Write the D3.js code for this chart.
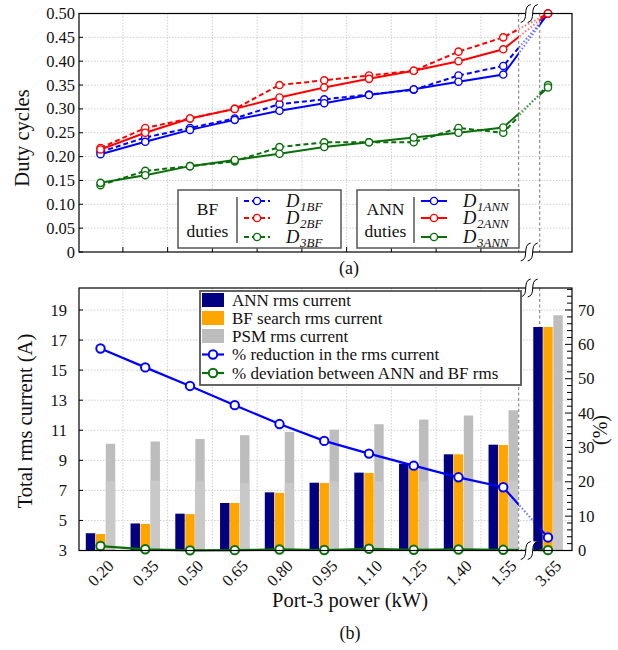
<!DOCTYPE html>
<html><head><meta charset="utf-8">
<script src="https://cdn.jsdelivr.net/npm/d3@7"></script>
<style>
body{margin:0;background:#fff;}
</style></head>
<body><svg id="c" width="618" height="650"></svg>
<script>
// ---------- data ----------
const categories = ["0.20","0.35","0.50","0.65","0.80","0.95","1.10","1.25","1.40","1.55","3.65"];
// (a) duty cycles
const d1ANN = [0.205,0.231,0.256,0.277,0.296,0.312,0.329,0.341,0.357,0.372,0.500];
const d1BF  = [0.210,0.240,0.260,0.280,0.310,0.320,0.330,0.340,0.370,0.390,0.500];
const d2ANN = [0.215,0.250,0.280,0.300,0.324,0.345,0.363,0.380,0.400,0.425,0.500];
const d2BF  = [0.218,0.260,0.280,0.300,0.350,0.360,0.370,0.380,0.420,0.450,0.500];
const d3ANN = [0.145,0.161,0.180,0.193,0.206,0.220,0.230,0.240,0.250,0.261,0.345];
const d3BF  = [0.140,0.170,0.180,0.190,0.220,0.230,0.230,0.230,0.260,0.250,0.350];
const dutyTicks = [0,0.05,0.10,0.15,0.20,0.25,0.30,0.35,0.40,0.45,0.50];
// (b) rms currents
const annRms   = [4.15,4.80,5.45,6.16,6.87,7.51,8.18,8.78,9.40,10.04,17.87];
const bfRms    = [4.10,4.77,5.42,6.16,6.84,7.49,8.16,8.76,9.40,10.02,17.87];
const psmRms   = [10.10,10.25,10.42,10.67,10.89,11.04,11.40,11.71,11.98,12.33,18.65];
const psmLower = [7.60,7.65,7.60,7.50,7.50,7.60,7.60,7.60,7.60,7.65,7.60];
const reduction = [58.8,53.3,47.9,42.3,36.8,31.9,28.2,24.7,21.3,18.4,3.8];
const deviation = [1.3,0.35,0.05,0.1,0.3,0.15,0.5,0.2,0.3,0.2,0.1];
const currentTicks = [3,5,7,9,11,13,15,17,19];
const percentTicks = [0,10,20,30,40,50,60,70];

// ---------- setup ----------
const FONT = "Liberation Serif";
const svg = d3.select("#c");
const L = 79, R = 572;
const x = d3.scaleLinear().domain([0,10]).range([100.5,548]);
const brk1 = x(9.345), brk2 = x(9.815), brkC = x(9.58);
const BLUE="#0000ff", RED="#ff0000", GREEN="#0a6e0a", NAVY="#000080", ORANGE="#ffa500", GRAY="#bdbdbd", GRAYL="#c8c8c8";
const defs = svg.append("defs");

function addClips(id, top, bottom){
  const a = defs.append("clipPath").attr("id", id+"A");
  a.append("rect").attr("x",L).attr("y",top-10).attr("width",brk1-L).attr("height",bottom-top+20);
  a.append("rect").attr("x",brk2).attr("y",top-10).attr("width",R-brk2+10).attr("height",bottom-top+20);
  const b = defs.append("clipPath").attr("id", id+"B");
  b.append("rect").attr("x",brk1).attr("y",top-10).attr("width",brk2-brk1).attr("height",bottom-top+20);
}
function txt(g){ return g.append("text").attr("font-family",FONT).attr("fill","#111"); }

function drawBreak(g, cx, cy){
  const s = g.append("g");
  const c = (dx)=>`M${cx+dx-5},${cy+9} C${cx+dx+4},${cy+7} ${cx+dx-4},${cy-7} ${cx+dx+5},${cy-9}`;
  s.append("path").attr("d", `M${cx-8.5},${cy+9} C${cx+0.5},${cy+7} ${cx-7.5},${cy-7} ${cx+1.5},${cy-9} L${cx+8.5},${cy-9} C${cx-0.5},${cy-7} ${cx+7.5},${cy+7} ${cx-1.5},${cy+9} Z`)
    .attr("fill","#fff");
  [-3.5,3.5].forEach(dx=> s.append("path").attr("d",c(dx)).attr("fill","none").attr("stroke","#000").attr("stroke-width",1));
}

function series(g, yScale, vals, color, dash, clipId, r, sw, mw){
  const line = d3.line().x((d,i)=>x(i)).y(d=>yScale(d));
  g.append("path").datum(vals).attr("d",line).attr("fill","none").attr("stroke",color)
    .attr("stroke-width",sw).attr("stroke-dasharray",dash).attr("clip-path",`url(#${clipId}A)`);
  const seg = vals.map((d,i)=>[i,d]).slice(9);
  g.append("path").datum(seg).attr("d",d3.line().x(d=>x(d[0])).y(d=>yScale(d[1])))
    .attr("fill","none").attr("stroke",color).attr("stroke-width",sw).attr("stroke-dasharray","1.5,2")
    .attr("opacity",0.55).attr("clip-path",`url(#${clipId}B)`);
  g.selectAll(null).data(vals).enter().append("circle")
    .attr("cx",(d,i)=>x(i)).attr("cy",d=>yScale(d)).attr("r",r)
    .attr("fill","#fff").attr("stroke",color).attr("stroke-width",mw);
}

// ================= (a) =================
const aTop = 13.5, aBot = 252;
const ya = d3.scaleLinear().domain([0,0.5]).range([aBot,aTop]);
addClips("ca", aTop, aBot);
const ga = svg.append("g");
ga.selectAll(null).data(dutyTicks.slice(1,-1)).enter().append("line")
  .attr("x1",L).attr("x2",R).attr("y1",d=>ya(d)).attr("y2",d=>ya(d))
  .attr("stroke","#d0d0d0").attr("stroke-width",1).attr("stroke-dasharray","1.5,1.5");
const halfIdx = d3.range(9).map(i=>i+0.5);
ga.selectAll(null).data(halfIdx).enter().append("line")
  .attr("x1",d=>x(d)).attr("x2",d=>x(d)).attr("y1",aTop).attr("y2",aBot)
  .attr("stroke","#d0d0d0").attr("stroke-width",1).attr("stroke-dasharray","1.5,1.5");
[brk1,brk2].forEach(v=> ga.append("line").attr("x1",v).attr("x2",v).attr("y1",aTop).attr("y2",aBot)
  .attr("stroke","#777").attr("stroke-width",1).attr("stroke-dasharray","3,2.5"));
series(ga, ya, d3BF, GREEN, "5,3", "ca", 3.6, 2, 1.4);
series(ga, ya, d3ANN, GREEN, null, "ca", 3.6, 2, 1.4);
series(ga, ya, d1BF, BLUE, "5,3", "ca", 3.6, 2, 1.4);
series(ga, ya, d1ANN, BLUE, null, "ca", 3.6, 2, 1.4);
series(ga, ya, d2BF, RED, "5,3", "ca", 3.6, 2, 1.4);
series(ga, ya, d2ANN, RED, null, "ca", 3.6, 2, 1.4);
ga.append("rect").attr("x",L).attr("y",aTop).attr("width",R-L).attr("height",aBot-aTop)
  .attr("fill","none").attr("stroke","#000").attr("stroke-width",1.2);
ga.selectAll(null).data(halfIdx).enter().append("line")
  .attr("x1",d=>x(d)).attr("x2",d=>x(d)).attr("y1",aBot).attr("y2",aBot-5).attr("stroke","#000");
ga.selectAll(null).data(dutyTicks).enter().append("line")
  .attr("x1",L).attr("x2",L+4).attr("y1",d=>ya(d)).attr("y2",d=>ya(d)).attr("stroke","#000");
dutyTicks.forEach(d=> txt(ga).attr("x",75).attr("y",ya(d)+5.5).attr("text-anchor","end").attr("font-size",16.5)
  .text(d===0 ? "0" : d3.format(".2f")(d)));
txt(ga).attr("transform","translate(29,138) rotate(-90)").attr("text-anchor","middle")
  .attr("font-size",20.5).text("Duty cycles");
drawBreak(ga, brkC, aTop);
drawBreak(ga, brkC, aBot);
function dutyLegend(x0, x1, sep, word, items){
  const g = ga.append("g");
  g.append("rect").attr("x",x0).attr("y",190).attr("width",x1-x0).attr("height",58)
    .attr("fill","#fff").attr("stroke","#555").attr("stroke-width",1.5);
  const tc = (x0+sep)/2;
  txt(g).attr("x",tc).attr("y",215).attr("text-anchor","middle").attr("font-size",17.5).text(word);
  txt(g).attr("x",tc).attr("y",237).attr("text-anchor","middle").attr("font-size",17.5).text("duties");
  g.append("line").attr("x1",sep).attr("x2",sep).attr("y1",197).attr("y2",243).attr("stroke","#000").attr("stroke-width",1);
  const rows=[201,218,237];
  items.forEach((it,k)=>{
    const yy=rows[k];
    g.append("line").attr("x1",sep+7).attr("x2",sep+33).attr("y1",yy).attr("y2",yy)
      .attr("stroke",it.c).attr("stroke-width",2).attr("stroke-dasharray",it.dash);
    g.append("circle").attr("cx",sep+20).attr("cy",yy).attr("r",3.6).attr("fill","#fff").attr("stroke",it.c).attr("stroke-width",1.4);
    txt(g).attr("x",sep+49).attr("y",yy+6).attr("font-size",18.5).attr("font-style","italic").text("D");
    txt(g).attr("x",sep+63).attr("y",yy+10).attr("font-size",13).attr("font-style","italic").text(it.sub);
  });
}
dutyLegend(178, 341, 237, "BF", [
  {c:BLUE,dash:"5,3",sub:"1BF"},{c:RED,dash:"5,3",sub:"2BF"},{c:GREEN,dash:"5,3",sub:"3BF"}]);
dutyLegend(357, 519, 414, "ANN", [
  {c:BLUE,dash:null,sub:"1ANN"},{c:RED,dash:null,sub:"2ANN"},{c:GREEN,dash:null,sub:"3ANN"}]);
txt(svg).attr("x",349).attr("y",274).attr("text-anchor","middle").attr("font-size",18).text("(a)");

// ================= (b) =================
const bTop = 288, bBot = 550.5;
const yl = d3.scaleLinear().domain([3,19]).range([bBot,310]);
const yr = d3.scaleLinear().domain([0,70]).range([bBot,310]);
addClips("cb", bTop, bBot);
const gb = svg.append("g");
gb.selectAll(null).data(currentTicks.slice(1)).enter().append("line")
  .attr("x1",L).attr("x2",R).attr("y1",d=>yl(d)).attr("y2",d=>yl(d))
  .attr("stroke","#d0d0d0").attr("stroke-width",1).attr("stroke-dasharray","1.5,1.5");
gb.selectAll(null).data(halfIdx).enter().append("line")
  .attr("x1",d=>x(d)).attr("x2",d=>x(d)).attr("y1",bTop).attr("y2",bBot)
  .attr("stroke","#d0d0d0").attr("stroke-width",1).attr("stroke-dasharray","1.5,1.5");
[brk1,brk2].forEach(v=> gb.append("line").attr("x1",v).attr("x2",v).attr("y1",bTop).attr("y2",bBot)
  .attr("stroke","#777").attr("stroke-width",1).attr("stroke-dasharray","3,2.5"));
const bw = 9.4, off = 10;
function bars(vals, dx, color){
  gb.selectAll(null).data(vals).enter().append("rect")
    .attr("x",(d,i)=>x(i)+dx-bw/2).attr("width",bw)
    .attr("y",d=>yl(d)).attr("height",d=>yl(3)-yl(d)).attr("fill",color);
}
bars(annRms, -off, NAVY);
bars(bfRms, 0, ORANGE);
bars(psmRms, off, GRAY);
bars(psmLower, off, GRAYL);
series(gb, yr, reduction, BLUE, null, "cb", 4.2, 2.2, 2);
series(gb, yr, deviation, GREEN, null, "cb", 4.2, 2.2, 2);
gb.append("rect").attr("x",L).attr("y",bTop).attr("width",R-L).attr("height",bBot-bTop)
  .attr("fill","none").attr("stroke","#000").attr("stroke-width",1.2);
gb.selectAll(null).data(currentTicks).enter().append("line")
  .attr("x1",L).attr("x2",L+4).attr("y1",d=>yl(d)).attr("y2",d=>yl(d)).attr("stroke","#000");
currentTicks.forEach(d=> txt(gb).attr("x",67).attr("y",yl(d)+5.5).attr("text-anchor","end").attr("font-size",16.5).text(d));
const minor = d3.range(0,77,2);
gb.selectAll(null).data(minor).enter().append("line")
  .attr("x1",R).attr("x2",d=> d%10===0 ? R-7 : R-5).attr("y1",d=>yr(d)).attr("y2",d=>yr(d))
  .attr("stroke","#000").attr("stroke-width",1);
percentTicks.forEach(d=> txt(gb).attr("x",578).attr("y",yr(d)+5.5).attr("font-size",16.5).text(d));
categories.forEach((d,i)=> txt(gb).attr("transform",`translate(${x(i)},573) rotate(-45)`)
  .attr("text-anchor","middle").attr("dy","0.35em").attr("font-size",16.5).text(d));
txt(gb).attr("transform","translate(32,421) rotate(-90)").attr("text-anchor","middle")
  .attr("font-size",20.5).text("Total rms current (A)");
txt(gb).attr("transform","translate(607,430) rotate(-90)").attr("text-anchor","middle")
  .attr("font-size",20).text("(%)");
txt(gb).attr("x",350).attr("y",607).attr("text-anchor","middle").attr("font-size",20.5).text("Port-3 power (kW)");
txt(svg).attr("x",350).attr("y",639).attr("text-anchor","middle").attr("font-size",18).text("(b)");
drawBreak(gb, brkC, bTop);
drawBreak(gb, brkC, bBot);
const lg = gb.append("g");
lg.append("rect").attr("x",200).attr("y",291).attr("width",321).attr("height",94)
  .attr("fill","#fff").attr("stroke","#555").attr("stroke-width",1.8);
const legItems = [
  {t:"ANN rms current", type:"bar", c:NAVY},
  {t:"BF search rms current", type:"bar", c:ORANGE},
  {t:"PSM rms current", type:"bar", c:GRAY},
  {t:"% reduction in the rms current", type:"line", c:BLUE},
  {t:"% deviation between ANN and BF rms", type:"line", c:GREEN}];
const legY = [300,318,336,354.5,373];
legItems.forEach((it,k)=>{
  const yy = legY[k];
  if(it.type==="bar"){
    lg.append("rect").attr("x",202).attr("y",yy-7).attr("width",22).attr("height",14).attr("fill",it.c);
  } else {
    lg.append("line").attr("x1",202).attr("x2",224).attr("y1",yy).attr("y2",yy).attr("stroke",it.c).attr("stroke-width",2.2);
    lg.append("circle").attr("cx",213).attr("cy",yy).attr("r",4.2).attr("fill","#fff").attr("stroke",it.c).attr("stroke-width",2);
  }
  txt(lg).attr("x",232).attr("y",yy+5.5).attr("font-size",17).text(it.t);
});
</script></body></html>
